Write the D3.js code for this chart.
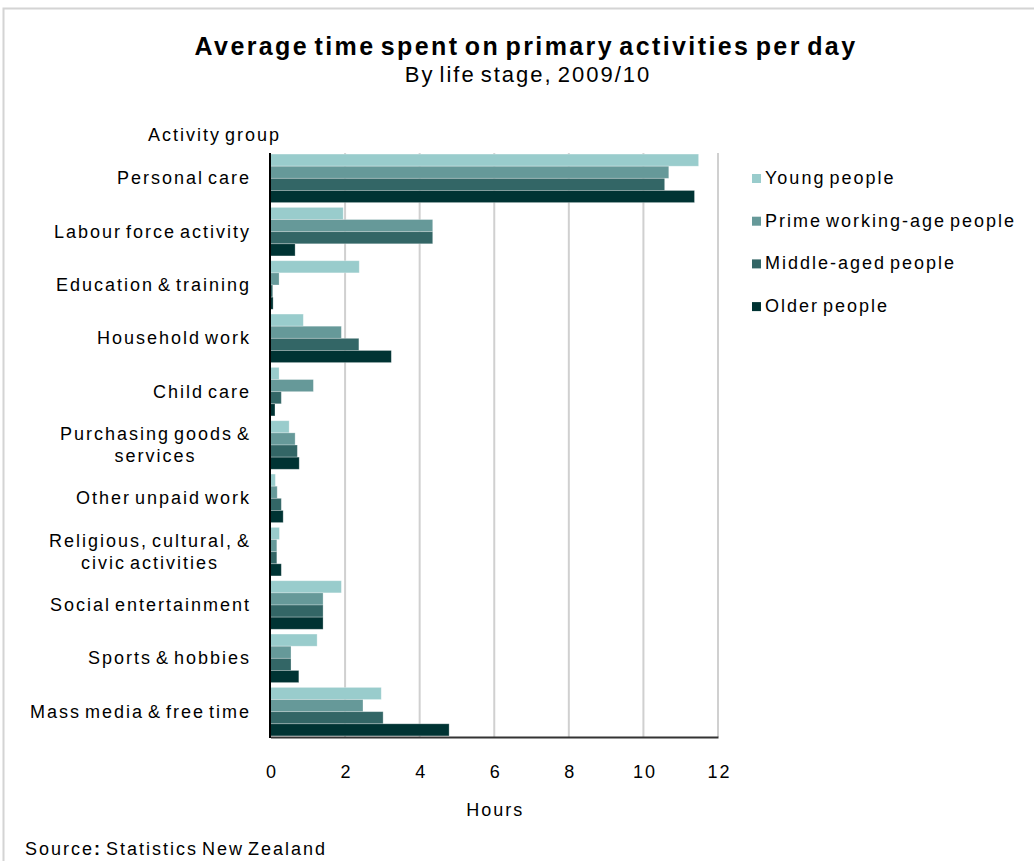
<!DOCTYPE html>
<html>
<head>
<meta charset="utf-8">
<script src="https://cdn.jsdelivr.net/npm/d3@7"></script>
<style>
  html, body { margin: 0; padding: 0; background: #fff; }
  svg { display: block; font-family: "Liberation Sans", Arial, sans-serif; }
  svg text { letter-spacing: 2px; word-spacing: -3px; }
</style>
</head>
<body>
<svg id="chart" width="1034" height="861"></svg>
<script>
// Activity groups (label lines) and hours per day for each life stage
const categories = [
  ["Personal care"],
  ["Labour force activity"],
  ["Education & training"],
  ["Household work"],
  ["Child care"],
  ["Purchasing goods &", "services"],
  ["Other unpaid work"],
  ["Religious, cultural, &", "civic activities"],
  ["Social entertainment"],
  ["Sports & hobbies"],
  ["Mass media & free time"]
];
const seriesNames = ["Young people", "Prime working-age people", "Middle-aged people", "Older people"];
const young  = [11.48, 1.95, 2.38, 0.88, 0.23, 0.50, 0.13, 0.24, 1.90, 1.25, 2.97];
const prime  = [10.68, 4.35, 0.23, 1.90, 1.15, 0.66, 0.18, 0.17, 1.41, 0.55, 2.48];
const middle = [10.57, 4.35, 0.06, 2.37, 0.29, 0.72, 0.29, 0.17, 1.41, 0.55, 3.02];
const older  = [11.37, 0.66, 0.07, 3.24, 0.12, 0.77, 0.34, 0.29, 1.41, 0.76, 4.79];
const xTicks = [0, 2, 4, 6, 8, 10, 12];
const colors = ["#99cccc", "#669999", "#336666", "#003333"];

const series = [young, prime, middle, older];
const svg = d3.select("#chart");
const FS = 18;

// outer frame
svg.append("path")
  .attr("d", "M3.5,861 V8.5 H1034")
  .attr("fill", "none").attr("stroke", "#d4d4d4").attr("stroke-width", 2);

const plot = { left: 270.5, right: 718, top: 153, bottom: 737 };

const x = d3.scaleLinear().domain([0, 12]).range([plot.left, plot.right]);
const y = d3.scaleBand().domain(d3.range(categories.length))
  .range([plot.top, plot.bottom]).paddingInner(0.09).paddingOuter(0.02);
const ySub = d3.scaleBand().domain(d3.range(series.length)).range([0, y.bandwidth()]);

// titles
svg.append("text").attr("x", 526).attr("y", 55).attr("text-anchor", "middle")
  .attr("font-size", 25).attr("font-weight", "bold").attr("fill", "#000")
  .style("letter-spacing", "2.4px").style("word-spacing", "-4px")
  .text("Average time spent on primary activities per day");
svg.append("text").attr("x", 528).attr("y", 82).attr("text-anchor", "middle")
  .attr("font-size", 22).attr("fill", "#000")
  .text("By life stage, 2009/10");

svg.append("text").attr("x", 148).attr("y", 141)
  .attr("font-size", FS).attr("fill", "#000").text("Activity group");

// vertical gridlines
svg.append("g").selectAll("line").data(xTicks.filter(d => d > 0)).join("line")
  .attr("x1", d => x(d)).attr("x2", d => x(d))
  .attr("y1", plot.top).attr("y2", plot.bottom)
  .attr("stroke", "#d0d0d0").attr("stroke-width", 2);

// bars
const groups = svg.append("g").selectAll("g").data(categories).join("g")
  .attr("transform", (d, i) => `translate(0,${y(i)})`);
groups.each(function(d, i) {
  d3.select(this).selectAll("rect").data(series.map((s, k) => ({ k, v: s[i] }))).join("rect")
    .attr("x", x(0))
    .attr("y", e => ySub(e.k))
    .attr("width", e => x(e.v) - x(0))
    .attr("height", ySub.bandwidth())
    .attr("fill", e => colors[e.k])
    .attr("stroke", "#ffffff").attr("stroke-opacity", 0.35).attr("stroke-width", 0.8);
});

// x axis
const xAxis = d3.axisBottom(x).tickValues(xTicks).tickSize(0).tickPadding(28);
const gx = svg.append("g").attr("transform", `translate(0,${plot.bottom})`).call(xAxis);
gx.select(".domain").attr("stroke", "#333").attr("stroke-width", 2);
gx.selectAll("text").attr("font-size", FS).attr("fill", "#000").attr("dx", 1)
  .attr("font-family", "Liberation Sans, Arial, sans-serif");

// y axis line
svg.append("line").attr("x1", plot.left - 0.5).attr("x2", plot.left - 0.5)
  .attr("y1", plot.top).attr("y2", plot.bottom + 1)
  .attr("stroke", "#000").attr("stroke-width", 2);

// category labels (multi-line labels centred within a right-aligned block)
const labelRight = 251;
categories.forEach((lines, i) => {
  const cy = y(i) + y.bandwidth() / 2;
  const t = svg.append("text").attr("font-size", FS).attr("fill", "#000");
  if (lines.length === 1) {
    t.attr("x", labelRight).attr("y", cy + 6).attr("text-anchor", "end").text(lines[0]);
  } else {
    // measure the widest line to place the centred block flush right
    const probe = svg.append("text").attr("font-size", FS).text(lines[0]);
    const w = d3.max(lines, l => { probe.text(l); return probe.node().getComputedTextLength(); });
    probe.remove();
    const cx = labelRight - w / 2;
    t.attr("text-anchor", "middle");
    lines.forEach((l, j) => {
      t.append("tspan").attr("x", cx).attr("y", cy + 6 + (j - (lines.length - 1) / 2) * 22).text(l);
    });
  }
});

svg.append("text").attr("x", x(6) + 1).attr("y", 816).attr("text-anchor", "middle")
  .attr("font-size", FS).attr("fill", "#000").text("Hours");

// legend
const legend = svg.append("g").selectAll("g").data(seriesNames).join("g")
  .attr("transform", (d, i) => `translate(752,${178 + i * 42.7})`);
legend.append("rect").attr("x", 0).attr("y", -4).attr("width", 9).attr("height", 9)
  .attr("fill", (d, i) => colors[i]);
legend.append("text").attr("x", 13).attr("y", 6).attr("font-size", FS).attr("fill", "#000")
  .text(d => d);

// source note
const src = svg.append("text").attr("x", 25).attr("y", 855).attr("font-size", FS).attr("fill", "#000");
src.append("tspan").text("Source");
src.append("tspan").attr("font-weight", "bold").text(":");
src.append("tspan").text(" Statistics New Zealand");
</script>
</body>
</html>
